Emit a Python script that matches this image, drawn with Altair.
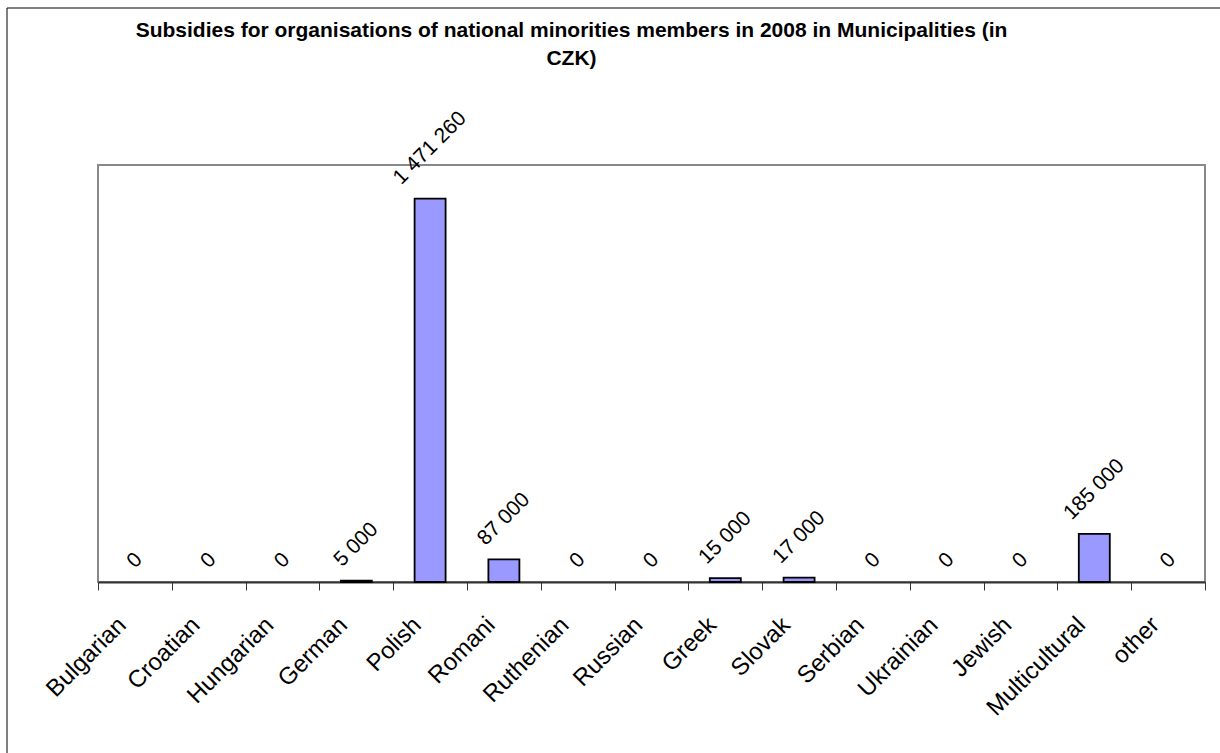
import altair as alt
import pandas as pd

# Subsidies granted by municipalities in 2008, by national minority (CZK)
categories = [
    "Bulgarian", "Croatian", "Hungarian", "German", "Polish", "Romani",
    "Ruthenian", "Russian", "Greek", "Slovak", "Serbian", "Ukrainian",
    "Jewish", "Multicultural", "other",
]
subsidies = [0, 0, 0, 5000, 1471260, 87000, 0, 0, 15000, 17000, 0, 0, 0, 185000, 0]
value_labels = [f"{v:,}".replace(",", " ") for v in subsidies]

title_lines = [
    "Subsidies for organisations of national minorities members in 2008 in Municipalities (in",
    "CZK)",
]

df = pd.DataFrame({"minority": categories, "czk": subsidies, "label": value_labels})

W, H = 1107, 417
Y_MAX = 1600000
FONT = "Liberation Sans"
AXIS_LABEL_SIZE = 24
VALUE_LABEL_SIZE = 21

x_enc = alt.X(
    "minority:N",
    sort=categories,
    scale=alt.Scale(paddingInner=0, paddingOuter=0),
    axis=alt.Axis(
        title=None,
        labelAngle=-45,
        labelAlign="right",
        labelBaseline="middle",
        labelFont=FONT,
        labelFontSize=AXIS_LABEL_SIZE,
        labelColor="black",
        labelPadding=31,
        labelOffset=-13,
        tickBand="extent",
        tickSize=8,
        tickWidth=1,
        tickColor="#333333",
        domainColor="#333333",
        domainWidth=2,
    ),
)
y_scale = alt.Scale(domain=[0, Y_MAX])
y_enc = alt.Y("czk:Q", scale=y_scale, axis=None)

# frame around the whole figure
frame = alt.Chart(alt.Data(values=[{}])).mark_rect(
    filled=False, stroke="black", strokeWidth=1
).encode(
    x=alt.value(-91), x2=alt.value(W + 40),
    y=alt.value(-157), y2=alt.value(H + 220),
)

bars = alt.Chart(df).transform_filter("datum.czk > 0").mark_bar(
    width=alt.RelativeBandSize(0.42),
    fill="#9999FF",
    stroke="black",
    strokeWidth=1.8,
).encode(x=x_enc, y=y_enc)

# rotated value labels: the label's rotated box sits a fixed gap above the bar,
# so its centre is lifted by the gap plus half of the box height (in pixels),
# converted to data units of the y scale
labels = alt.Chart(df).transform_calculate(
    nsp="length(datum.label) - length(replace(datum.label, regexp(' ', 'g'), ''))",
    lift_px=(
        f"12 + 0.3536 * {VALUE_LABEL_SIZE} * "
        "(0.556 * (length(datum.label) - datum.nsp) + 0.278 * datum.nsp + 0.72)"
    ),
    label_y=f"datum.czk + datum.lift_px * {Y_MAX} / {H}",
).mark_text(
    angle=315, align="center", baseline="middle",
    font=FONT, fontSize=VALUE_LABEL_SIZE, color="black",
).encode(
    x=alt.X("minority:N", sort=categories),
    y=alt.Y("label_y:Q", scale=y_scale),
    text="label:N",
)

chart = alt.layer(frame, bars, labels).properties(
    width=W,
    height=H,
    autosize=alt.AutoSizeParams(type="none"),
    padding={"left": 98, "top": 165, "right": 15, "bottom": 171},
    background="white",
    title=alt.TitleParams(
        text=title_lines,
        font=FONT,
        fontSize=21,
        fontWeight="bold",
        color="black",
        anchor="middle",
        frame="group",
        baseline="bottom",
        lineHeight=28,
        offset=0,
        dx=-80,
        dy=82,
    ),
).configure_view(stroke="#888888", strokeWidth=2)

chart.save("out.html", embed_options={"renderer": "svg", "actions": False})
